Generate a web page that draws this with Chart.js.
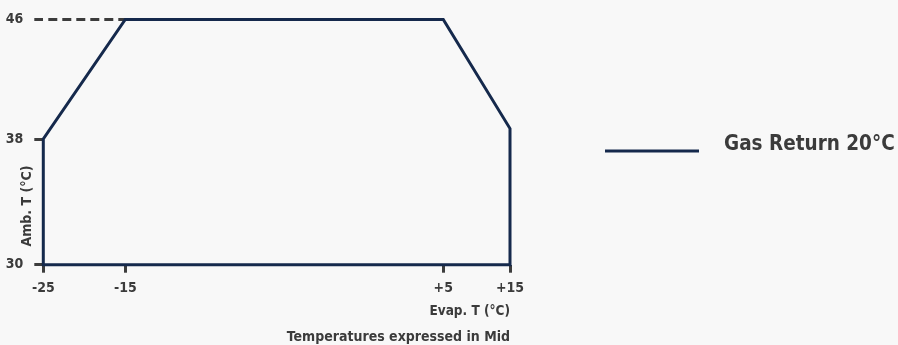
<!DOCTYPE html>
<html>
<head>
<meta charset="utf-8">
<script src="https://cdn.jsdelivr.net/npm/chart.js@4/dist/chart.umd.min.js"></script>
<style>
  html, body { margin: 0; padding: 0; background: #f8f8f8; }
  #wrap { width: 898px; height: 345px; }
</style>
</head>
<body>
<div id="wrap"><canvas id="envelope" width="898" height="345"></canvas></div>
<script>
// Evaporating temperature ticks (°C) and their printed labels
const evapTicks = [-25, -15, 5, 15];
const evapTickLabels = ['-25', '-15', '+5', '+15'];
// Ambient temperature ticks (°C)
const ambTicks = [30, 38, 46];
const ambTickLabels = ['30', '38', '46'];

// Operating envelope outline, walked round from the lower-left corner
const envelopeEvap = [-25, -25, -15, 5, 15, 15, -25];
const envelopeAmb = [30, 38, 46, 46, 38.7, 30, 30];
const seriesLabel = 'Gas Return 20°C';

// Guide from the 46 °C tick to the envelope's top-left corner
const guideEvap = [-25, -15];
const guideAmb = [46, 46];

const xTitle = 'Evap. T (°C)';
const yTitle = 'Amb. T (°C)';
const footnote = 'Temperatures expressed in Mid';

// Prefer a narrow face: condensed Noto Sans if the system offers it,
// otherwise DejaVu Sans Condensed.
function pickFace() {
  const c = document.createElement('canvas').getContext('2d');
  c.font = 'bold 20px "Noto Sans"';
  const wide = c.measureText(seriesLabel).width;
  c.font = 'bold extra-condensed 20px "Noto Sans"';
  const narrow = c.measureText(seriesLabel).width;
  if (narrow < wide * 0.85) return { family: '"Noto Sans"', weight: 'bold extra-condensed', narrow: true };
  return { family: '"DejaVu Sans Condensed", sans-serif', weight: 'bold', narrow: false };
}
const FACE = pickFace();
const SZ = FACE.narrow
  ? { tick: 16, title: 17, key: 26, note: 17 }
  : { tick: 14, title: 13.5, key: 20.5, note: 14 };

const NAVY = '#15294c';
const INK = '#3b3b3b';
const TICK = '#3d3d3d';

// Linear scale whose ticks sit at chosen fractions of the axis length,
// with straight interpolation between neighbouring ticks.
class PiecewiseScale extends Chart.LinearScale {
  static id = 'piecewise';
  _stops() {
    const vals = this.options.stopValues;
    const pos = this.options.stopPositions;
    const out = [];
    for (let i = 0; i < vals.length; i++) out.push([vals[i], pos[i]]);
    return out;
  }
  _segment(s, value, key) {
    let i = 0;
    while (i < s.length - 2 && value > s[i + 1][key]) i++;
    return i;
  }
  getPixelForValue(value) {
    const s = this._stops();
    const i = this._segment(s, value, 0);
    const [v0, p0] = s[i];
    const [v1, p1] = s[i + 1];
    return this.getPixelForDecimal(p0 + (value - v0) * (p1 - p0) / (v1 - v0));
  }
  getValueForPixel(pixel) {
    const s = this._stops();
    const d = this.getDecimalForPixel(pixel);
    const i = this._segment(s, d, 1);
    const [v0, p0] = s[i];
    const [v1, p1] = s[i + 1];
    return v0 + (d - p0) * (v1 - v0) / (p1 - p0);
  }
}
Chart.register(PiecewiseScale);

Chart.defaults.font.family = FACE.family;
Chart.defaults.font.weight = FACE.weight;
Chart.defaults.color = INK;

const fontStr = (size) => FACE.weight + ' ' + size + 'px ' + FACE.family;

// Series key on the right plus the rotated ambient-axis caption
const sideText = {
  id: 'sideText',
  afterDraw(chart) {
    const { ctx } = chart;
    const ds = chart.data.datasets[0];
    ctx.save();
    ctx.strokeStyle = ds.borderColor;
    ctx.lineWidth = 3;
    ctx.beginPath();
    ctx.moveTo(605, 151);
    ctx.lineTo(699, 151);
    ctx.stroke();
    ctx.fillStyle = INK;
    ctx.font = fontStr(SZ.key);
    ctx.textAlign = 'left';
    ctx.textBaseline = 'middle';
    ctx.fillText(ds.label, 724, 145);
    ctx.translate(27, 206);
    ctx.rotate(-Math.PI / 2);
    ctx.font = fontStr(SZ.tick);
    ctx.textAlign = 'center';
    ctx.fillText(yTitle, 0, 0);
    ctx.restore();
  }
};

const tickGrid = (len) => ({
  drawOnChartArea: false,
  drawTicks: true,
  tickLength: len,
  tickColor: TICK,
  tickWidth: 3
});

new Chart(document.getElementById('envelope'), {
  type: 'line',
  data: {
    datasets: [
      {
        label: seriesLabel,
        data: envelopeEvap.map((x, i) => ({ x, y: envelopeAmb[i] })),
        borderColor: NAVY,
        borderWidth: 3,
        borderJoinStyle: 'miter',
        borderCapStyle: 'square',
        pointRadius: 0,
        tension: 0,
        fill: false,
        clip: false,
        order: 1
      },
      {
        label: 'guide',
        data: guideEvap.map((x, i) => ({ x, y: guideAmb[i] })),
        borderColor: '#3c3c3c',
        borderWidth: 3,
        borderDash: [9, 5],
        borderDashOffset: 9,
        pointRadius: 0,
        tension: 0,
        fill: false,
        clip: false,
        order: 2
      }
    ]
  },
  options: {
    responsive: false,
    animation: false,
    devicePixelRatio: 1,
    layout: { padding: { top: 19.5, right: 388, bottom: 0, left: 0 } },
    scales: {
      x: {
        type: 'piecewise',
        position: 'bottom',
        min: -25,
        max: 15,
        stopValues: evapTicks,
        stopPositions: [0, 0.1757, 0.857, 1],
        afterBuildTicks: (s) => { s.ticks = evapTicks.map(v => ({ value: v })); },
        afterFit: (s) => { s.height = 65.3; },
        ticks: {
          callback: (v, i) => evapTickLabels[i],
          font: { size: SZ.tick },
          padding: 7,
          maxRotation: 0,
          autoSkip: false
        },
        grid: tickGrid(8),
        border: { display: false },
        title: {
          display: true,
          text: xTitle,
          align: 'end',
          font: { size: SZ.title },
          padding: { top: 0, bottom: 10 }
        }
      },
      y: {
        type: 'piecewise',
        position: 'left',
        min: 30,
        max: 46,
        stopValues: ambTicks,
        stopPositions: [0, 0.5126, 1],
        afterBuildTicks: (s) => { s.ticks = ambTicks.map(v => ({ value: v })); },
        afterFit: (s) => { s.width = 43.3; },
        ticks: {
          callback: (v, i) => ambTickLabels[i],
          font: { size: SZ.tick },
          padding: 11,
          autoSkip: false
        },
        grid: tickGrid(9),
        border: { display: false }
      }
    },
    plugins: {
      legend: { display: false },
      tooltip: { enabled: false },
      subtitle: {
        display: true,
        text: footnote,
        position: 'bottom',
        align: 'end',
        color: INK,
        font: { size: SZ.note, weight: FACE.weight, lineHeight: 1 },
        padding: { top: 0, bottom: 1 }
      }
    }
  },
  plugins: [sideText]
});
</script>
</body>
</html>
